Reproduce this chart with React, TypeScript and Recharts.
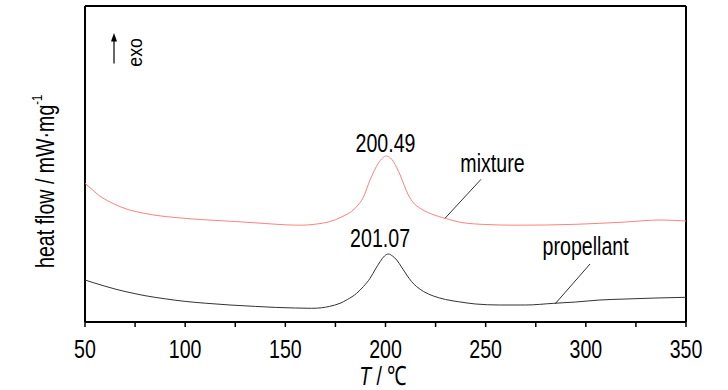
import React from 'react';
import { LineChart, Line, XAxis, YAxis, ReferenceLine, ReferenceDot } from 'recharts';

// Temperature ticks (°C)
const xTicks = [50, 75, 100, 125, 150, 175, 200, 225, 250, 275, 300, 325, 350];
const xLabelTicks = [50, 100, 150, 200, 250, 300, 350];

// Heat flow (arbitrary units, exo up) — mixture
const mixture: [number, number][] = [
  [50, 138.7], [53, 133.5], [57, 126.5], [62, 120.5], [70, 113.5], [80, 108.5], [95, 104.5],
  [110, 102.2], [125, 100.5], [140, 98.5], [150, 97.2], [158, 96.8], [165, 97.8], [172, 100.3],
  [178, 105], [184.8, 113.7], [189, 125], [192.3, 142], [196.4, 158.7], [198.5, 164], [200.5, 166],
  [202.5, 164], [204, 160.3], [207.3, 147], [211.4, 127], [214, 119], [217.3, 113.7], [223, 108],
  [229.7, 103.7], [238.7, 99.3], [250, 97.5], [265, 96.8], [280, 97], [295, 97.7], [307, 98.7],
  [320, 100], [337, 102], [345, 101.5], [350, 101],
];

// Heat flow — propellant
const propellant: [number, number][] = [
  [50, 42], [55, 38.8], [60, 35.8], [65, 33], [70, 30.5], [75, 28.3], [80, 26.3], [90, 23.2],
  [100, 20.6], [110, 18.8], [122.4, 17], [135, 15.6], [145, 14.6], [155, 14], [163, 13.7],
  [168, 14.2], [172, 15.6], [177.3, 18.7], [181, 22.5], [185.6, 28.7], [189, 35.5],
  [192.3, 43.7], [195, 53], [197.3, 60.3], [199.5, 66], [201.4, 68], [203.5, 66], [205.6, 62],
  [208, 55], [210.6, 47], [213, 40.5], [215.6, 35.3], [219, 30.5], [223.9, 26], [230, 22.5],
  [236.4, 20.3], [245, 18], [257, 17], [270, 17], [284, 18.7], [295, 20], [307, 22], [320, 23],
  [335, 24], [350, 24.7],
];

// Annotations: text, anchor temperature, anchor heat flow
const annotations: { text: string; t: number; v: number }[] = [
  { text: '200.49', t: 200.0, v: 169.7 },
  { text: '201.07', t: 197.3, v: 74.7 },
  { text: 'mixture', t: 253.4, v: 149.7 },
  { text: 'propellant', t: 299.9, v: 67 },
];

// Leader lines [t1, v1, t2, v2]
const leaders: [number, number, number, number][] = [
  [229.7, 103.7, 247.7, 142.7],
  [284.6, 18, 302.1, 58],
];

const FONT = '"Liberation Sans", Arial, sans-serif';
const SX = 0.74;

const mixData = mixture.map(([t, v]) => ({ t, v }));
const propData = propellant.map(([t, v]) => ({ t, v }));

const Tick = (props: any) => {
  const { x, payload } = props;
  if (!xLabelTicks.includes(payload.value)) return null;
  return (
    <text
      transform={`translate(${x},357.5) scale(${SX},1)`}
      textAnchor="middle"
      fontSize={26.5}
      fontFamily={FONT}
      fill="#000"
    >
      {payload.value}
    </text>
  );
};

export default function App() {
  return (
    <div style={{ position: 'absolute', left: 0, top: 0, width: 728, height: 390, background: '#fff' }}>
      <LineChart
        width={728}
        height={390}
        margin={{ top: 6, right: 42, left: 85, bottom: 38 }}
      >
        <XAxis
          dataKey="t"
          type="number"
          domain={[50, 350]}
          ticks={xTicks}
          allowDataOverflow
          height={30}
          tickSize={5}
          axisLine={{ stroke: '#000', strokeWidth: 2 }}
          tickLine={{ stroke: '#000', strokeWidth: 1.5 }}
          tick={<Tick />}
        />
        <YAxis type="number" domain={[0, 316]} hide allowDataOverflow />
        <ReferenceLine x={50} stroke="#000" strokeWidth={2} ifOverflow="extendDomain" />
        <ReferenceLine x={350} stroke="#000" strokeWidth={2} ifOverflow="extendDomain" />
        <ReferenceLine y={316} stroke="#000" strokeWidth={2} ifOverflow="extendDomain" />
        <Line
          data={mixData}
          dataKey="v"
          type="monotone"
          stroke="#ff8080"
          strokeWidth={1}
          dot={false}
          isAnimationActive={false}
        />
        <Line
          data={propData}
          dataKey="v"
          type="monotone"
          stroke="#333"
          strokeWidth={1}
          dot={false}
          isAnimationActive={false}
        />
        {leaders.map(([t1, v1, t2, v2], i) => (
          <ReferenceLine
            key={'l' + i}
            segment={[{ x: t1, y: v1 }, { x: t2, y: v2 }]}
            stroke="#333"
            strokeWidth={1}
          />
        ))}
        {annotations.map((a, i) => (
          <ReferenceDot
            key={'a' + i}
            x={a.t}
            y={a.v}
            r={0}
            shape={(p: any) => (
              <text
                transform={`translate(${p.cx},${p.cy}) scale(${SX},1)`}
                textAnchor="middle"
                fontSize={26.5}
                fontFamily={FONT}
                fill="#000"
              >
                {a.text}
              </text>
            )}
          />
        ))}
      </LineChart>
      <svg
        width={728}
        height={390}
        style={{ position: 'absolute', left: 0, top: 0, pointerEvents: 'none' }}
      >
        {/* y-axis title */}
        <text
          transform={`translate(53.5,268) rotate(-90) scale(${SX},1)`}
          fontSize={26.5}
          fontFamily={FONT}
          fill="#000"
        >
          heat flow / mW·mg
          <tspan fontSize={15} dy={-12}>-1</tspan>
        </text>
        {/* exo arrow */}
        <line x1={114} y1={40} x2={114} y2={63.5} stroke="#000" strokeWidth={1.2} />
        <polygon points="114,33 111,41.5 117,41.5" fill="#000" />
        <text
          transform={`translate(141.7,66.7) rotate(-90) scale(0.86,1)`}
          fontSize={20.6}
          fontFamily={FONT}
          fill="#000"
        >
          exo
        </text>
        {/* x-axis title */}
        <text
          transform={`translate(383,385) scale(${SX},1)`}
          textAnchor="middle"
          fontSize={26.5}
          fontFamily={FONT}
          fill="#000"
        >
          <tspan fontStyle="italic">T</tspan> / ℃
        </text>
      </svg>
    </div>
  );
}
